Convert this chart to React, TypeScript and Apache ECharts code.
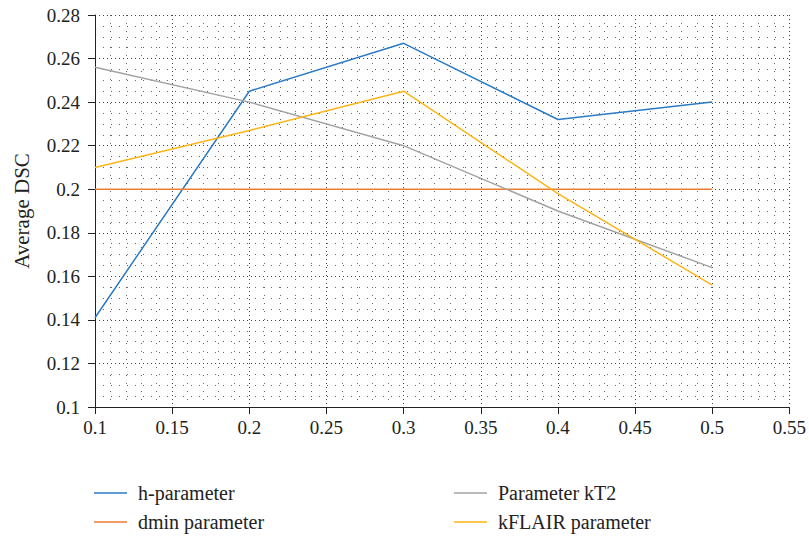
import React, { useEffect, useRef } from "react";
import * as echarts from "echarts";

const xValues = [0.1, 0.2, 0.3, 0.4, 0.5];
const hParameter = [0.141, 0.245, 0.267, 0.232, 0.24];
const dminParameter = [0.2, 0.2, 0.2, 0.2, 0.2];
const kT2Parameter = [0.256, 0.24, 0.22, 0.19, 0.164];
const kFLAIRParameter = [0.21, 0.227, 0.245, 0.198, 0.156];

const seriesNames = ["h-parameter", "dmin parameter", "Parameter kT2", "kFLAIR parameter"];
const seriesColors = ["#2b7bc4", "#ee7d33", "#a3a3a3", "#fdb515"];

const FONT = "Liberation Serif";

export default function App() {
  const ref = useRef<HTMLDivElement>(null);
  useEffect(() => {
    if (!ref.current) return;
    const chart = echarts.init(ref.current, null, { renderer: "svg" });
    const all = [hParameter, dminParameter, kT2Parameter, kFLAIRParameter];
    const axisCommon = {
      axisLine: { show: true, lineStyle: { color: "#222", width: 1 } },
      axisTick: { show: true, inside: false, length: 7, lineStyle: { color: "#222" } },
      splitLine: { show: true, lineStyle: { color: "#444", type: [1, 3], width: 1 } },
      minorSplitLine: { show: true, lineStyle: { color: "#666", type: [1, 7], width: 1 } },
    };
    const labelStyle = { color: "#222", fontFamily: FONT, fontSize: 19 };
    const legendCommon = {
      orient: "vertical",
      top: 483,
      height: 56,
      padding: 0,
      icon: "rect",
      itemWidth: 33,
      itemHeight: 1.5,
      itemGap: 9,
      textStyle: { color: "#222", fontFamily: FONT, fontSize: 20, padding: [0, 0, 0, 6] },
    };
    chart.setOption({
      animation: false,
      backgroundColor: "#fff",
      grid: { left: 95, right: 18, top: 15, bottom: 132 },
      xAxis: {
        type: "value",
        min: 0.1,
        max: 0.55,
        interval: 0.05,
        ...axisCommon,
        axisLabel: { ...labelStyle, margin: 11 },
        minorTick: { show: false, splitNumber: 5 },
      },
      yAxis: {
        type: "value",
        min: 0.1,
        max: 0.28,
        interval: 0.02,
        name: "Average DSC",
        nameLocation: "middle",
        nameGap: 63,
        nameTextStyle: { color: "#222", fontFamily: FONT, fontSize: 21 },
        ...axisCommon,
        axisLabel: { ...labelStyle, margin: 15 },
        minorTick: { show: false, splitNumber: 4 },
      },
      legend: [
        { ...legendCommon, left: 94, data: [seriesNames[0], seriesNames[1]] },
        { ...legendCommon, left: 454, data: [seriesNames[2], seriesNames[3]] },
      ],
      series: all.map((vals, i) => ({
        name: seriesNames[i],
        type: "line",
        data: xValues.map((x, j) => [x, vals[j]]),
        showSymbol: false,
        symbol: "none",
        color: seriesColors[i],
        lineStyle: { color: seriesColors[i], width: 1.5 },
        z: 3,
      })),
    });
    return () => chart.dispose();
  }, []);
  return <div ref={ref} style={{ width: 809, height: 539, position: "absolute", left: 0, top: 0 }} />;
}
